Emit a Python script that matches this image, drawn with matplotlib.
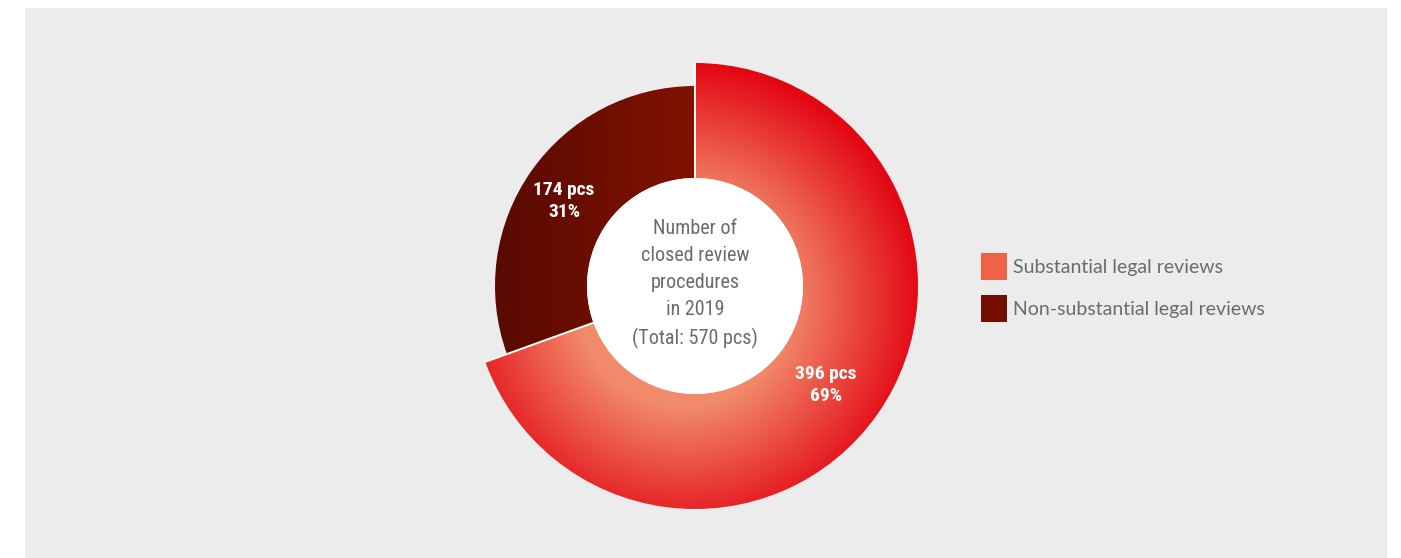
"""
Donut chart: closed review procedures in 2019
"""
import numpy as np
import matplotlib
matplotlib.use("Agg")
import matplotlib.pyplot as plt
from matplotlib.patches import Rectangle, Patch, Circle
from matplotlib.colors import to_rgb

# data
categories = ["Substantial legal reviews", "Non-substantial legal reviews"]
counts = [396, 174]
percent_labels = ["69%", "31%"]
centre_lines = ["Number of", "closed review", "procedures", "in 2019", "(Total: 570 pcs)"]

W, H = 1401, 558
BG = "#ececec"
TEXT_GREY = "#6b6b6b"
NARROW = ["Roboto Condensed", "Lato", "DejaVu Sans"]

fig = plt.figure(figsize=(W / 100, H / 100), dpi=100)
fig.patch.set_facecolor("white")
ax = fig.add_axes([0, 0, 1, 1])

# grey panel
ax.add_patch(Rectangle((25, 0), 1362, H - 8, facecolor=BG, edgecolor="none", zorder=0))

cx, cy = 695, H - 286
r_outer = 223
r_dark = 200
r_inner = 108

wedges, _ = ax.pie(counts, startangle=90, counterclock=False, center=(cx, cy),
                   radius=r_outer, wedgeprops=dict(width=r_outer - r_inner),
                   frame=True)
wedges[1].set_radius(r_dark)
wedges[1].set_width(r_dark - r_inner)

# white hole
ax.add_patch(Circle((cx, cy), r_inner, facecolor="white", edgecolor="none", zorder=2))

# gradient fills, clipped to each wedge
xs = np.arange(cx - r_outer, cx + r_outer + 1)
ys = np.arange(cy - r_outer, cy + r_outer + 1)
X, Y = np.meshgrid(xs, ys)
ext = (xs[0], xs[-1], ys[0], ys[-1])

light = np.array(to_rgb("#f18a6a"))
red = np.array(to_rgb("#e30613"))
d = np.hypot(X - (cx - 12), Y - (cy - 16))
t = np.clip((d - 105) / 135.0, 0, 1)[..., None]
img_red = light + (red - light) * t

dk1 = np.array(to_rgb("#580a02"))
dk2 = np.array(to_rgb("#821200"))
t2 = np.clip((X - (cx - r_dark)) / r_dark, 0, 1)[..., None]
img_dark = dk1 + (dk2 - dk1) * t2

for w, img in zip(wedges, [img_red, img_dark]):
    w.set_facecolor("none")
    w.set_edgecolor("none")
    im = ax.imshow(img, extent=ext, origin="lower", interpolation="bilinear", zorder=1)
    im.set_clip_path(w)

# white separators on the wedge boundaries
for ang in [wedges[0].theta1, wedges[0].theta2]:
    a = np.deg2rad(ang)
    ax.plot([cx + r_inner * np.cos(a), cx + r_outer * np.cos(a)],
            [cy + r_inner * np.sin(a), cy + r_outer * np.sin(a)],
            color="white", lw=1.4, zorder=3, solid_capstyle="butt")

# value labels
for w, n, p in zip(wedges, counts, percent_labels):
    a = np.deg2rad((w.theta1 + w.theta2) / 2)
    lx = cx + 160 * np.cos(a)
    ly = cy + 160 * np.sin(a) - 7
    ax.text(lx, ly, f"{n} pcs\n{p}", ha="center", va="center", color="white",
            fontsize=14, fontweight="bold", family=NARROW,
            linespacing=1.3, zorder=4)

# centre text
ax.text(cx, cy + 2, "\n".join(centre_lines), ha="center", va="center", color=TEXT_GREY,
        fontsize=14.5, family=NARROW, linespacing=1.52, zorder=4)

# legend
handles = [Patch(facecolor="#ee6248", edgecolor="none"),
           Patch(facecolor="#730f02", edgecolor="none")]
ax.legend(handles, categories, loc="upper left", bbox_to_anchor=(981, H - 253),
          bbox_transform=ax.transData, frameon=False, borderpad=0, borderaxespad=0,
          handlelength=1.36, handleheight=1.72, handletextpad=0.31, labelspacing=0.8,
          prop=dict(family=["Lato", "DejaVu Sans"], size=14), labelcolor=TEXT_GREY)

ax.set_xlim(0, W)
ax.set_ylim(0, H)
ax.set_aspect("equal")
ax.axis("off")

fig.savefig("out.png", dpi=100, facecolor=fig.get_facecolor())
